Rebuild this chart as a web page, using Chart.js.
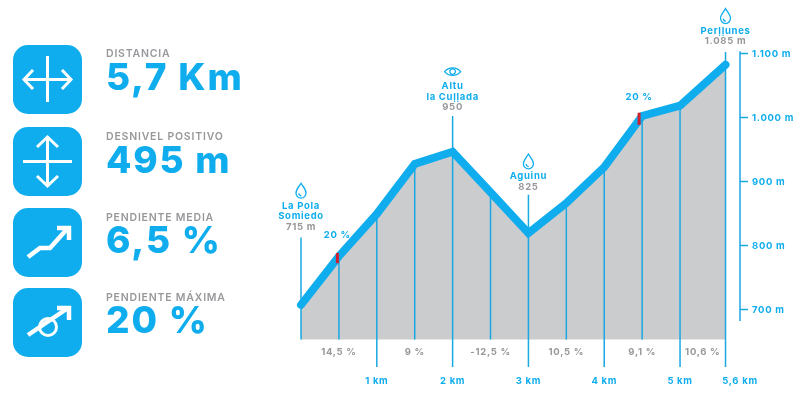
<!DOCTYPE html>
<html>
<head>
<meta charset="utf-8">
<script src="https://cdn.jsdelivr.net/npm/chart.js@4"></script>
<style>
    html, body { margin: 0; padding: 0; background: #fff; }
    #wrap { position: relative; width: 800px; height: 396px; overflow: hidden; font-family: Inter, sans-serif; }
    #profile { position: absolute; left: 0; top: 0; }
    .icon { position: absolute; left: 13px; width: 69px; height: 69px; }
    .stat-name { position: absolute; left: 106px; font-size: 10.5px; font-weight: 600; color: #98989c; letter-spacing: 0.8px; line-height: 12px; white-space: nowrap; }
    .stat-value { position: absolute; left: 106px; font-size: 37px; font-weight: 800; color: #0fadee; line-height: 40px; white-space: nowrap; letter-spacing: 1.8px; }
</style>
</head>
<body>
<div id="wrap">
    <canvas id="profile" width="800" height="396"></canvas>

    <svg class="icon" style="top:45px" viewBox="0 0 69 69"><rect width="69" height="69" rx="15" fill="#0fadee"/><g fill="none" stroke="#fff" stroke-width="3"><path d="M34.5 11V57M11 34.5H58M20 25L11 34.5L20 44M49 25L58 34.5L49 44"/></g></svg>
    <div class="stat-name" style="top:48px">DISTANCIA</div>
    <div class="stat-value" style="top:57px">5,7 Km</div>

    <svg class="icon" style="top:127px" viewBox="0 0 69 69"><rect width="69" height="69" rx="15" fill="#0fadee"/><g fill="none" stroke="#fff" stroke-width="3"><path d="M34.5 11V58M10 34.5H59M24 20L34.5 10L45 20M24 49L34.5 59L45 49"/></g></svg>
    <div class="stat-name" style="top:131px">DESNIVEL POSITIVO</div>
    <div class="stat-value" style="top:140px">495 m</div>

    <svg class="icon" style="top:208px" viewBox="0 0 69 69"><rect width="69" height="69" rx="15" fill="#0fadee"/><g fill="none" stroke="#fff" stroke-width="4.5"><path d="M15 49L27 40H37L55 20M44 20H56V32"/></g></svg>
    <div class="stat-name" style="top:212px">PENDIENTE MEDIA</div>
    <div class="stat-value" style="top:220px">6,5 %</div>

    <svg class="icon" style="top:288px" viewBox="0 0 69 69"><rect width="69" height="69" rx="15" fill="#0fadee"/><g fill="none" stroke="#fff"><path stroke-width="4.5" d="M15 47L55 20M44 20H56V32"/><circle stroke-width="3" cx="35" cy="39" r="8.5"/></g></svg>
    <div class="stat-name" style="top:292px">PENDIENTE MÁXIMA</div>
    <div class="stat-value" style="top:300px">20 %</div>
</div>

<script>
// elevation profile
const profileKm = [0, 0.5, 1, 1.5, 2, 2.5, 3, 3.5, 4, 4.5, 5, 5.6];
const profileElev = [708, 784, 850, 928, 947, 884, 820, 867, 923, 1003, 1019, 1083];

const elevTicks = [700, 800, 900, 1000, 1100];
const kmMarks = [1, 2, 3, 4, 5, 5.6];
// last label is centred under the elevation axis, not under its own line
const kmLabelAt = [1, 2, 3, 4, 5, 5.791];
const kmLabels = ['1 km', '2 km', '3 km', '4 km', '5 km', '5,6 km'];

const slopeKm = [0.5, 1.5, 2.5, 3.5, 4.5, 5.3];
const slopeLabels = ['14,5 %', '9 %', '-12,5 %', '10,5 %', '9,1 %', '10,6 %'];

const placeKm = [0, 2, 3, 5.6];
const placeTop = [813, 1003, 880, 1103];
const placeLabelElev = [830, 1016, 892, 1119];
const placeNames = [['La Pola', 'Somiedo'], ['Altu', 'la Cuḷḷada'], ['Aguinu'], ['Perḷḷunes']];
const placeElev = ['715 m', '950', '825', '1.085 m'];
const placeIcons = ['drop', 'eye', 'drop', 'drop'];

const steepKm = [0.48, 4.46];
const steepFrom = [773, 989];
const steepTo = [789, 1008];
const steepLabels = ['20 %', '20 %'];
const steepLabelElev = [817, 1033];

const floorElev = 654;
const bottomElev = 611;
const blue = '#0fadee';
const lineBlue = '#1aa8e2';
const grey = '#98989c';

function elevAt(km) {
    return profileElev[profileKm.indexOf(km)];
}

// vertical lines: half km marks stop at the floor, full km marks go down to the labels
const dropLines = profileKm.map(km => {
    const placeIndex = placeKm.indexOf(km);
    const top = placeIndex >= 0 ? placeTop[placeIndex] : elevAt(km);
    const bottom = kmMarks.includes(km) ? bottomElev : floorElev;
    return {
        data: [{ x: km, y: top }, { x: km, y: bottom }],
        borderColor: lineBlue,
        borderWidth: 1.5,
        pointRadius: 0,
        order: 2
    };
});

const steepLines = steepKm.map((km, i) => ({
    data: [{ x: km, y: steepFrom[i] }, { x: km, y: steepTo[i] }],
    borderColor: '#d3202f',
    borderWidth: 3,
    pointRadius: 0,
    order: 0
}));

const axisLine = {
    data: [{ x: 5.791, y: 1104 }, { x: 5.791, y: 683 }],
    borderColor: lineBlue,
    borderWidth: 1.5,
    pointRadius: 0,
    clip: false,
    order: 2
};

const dropPath = new Path2D('M0 -7.5C2 -4 5 -1.5 5 2.2A5 5.2 0 0 1 -5 2.2C-5 -1.5 -2 -4 0 -7.5Z');
const dropInner = new Path2D('M-2.2 2.5A2.4 2.6 0 0 0 0.3 5');
const eyePath = new Path2D('M-8 0C-4 -5 4 -5 8 0C4 5 -4 5 -8 0Z');

const labelsPlugin = {
    id: 'profileLabels',
    beforeDraw(chart) {
        chart.ctx.letterSpacing = '0.7px';
    },
    afterDatasetsDraw(chart) {
        const { ctx, scales } = chart;
        const x = scales.x;
        const y = scales.y;
        ctx.save();
        ctx.textAlign = 'center';
        ctx.textBaseline = 'middle';
        ctx.font = '700 9.5px Inter';

        // slope under each stretch
        ctx.fillStyle = grey;
        slopeKm.forEach((km, i) => ctx.fillText(slopeLabels[i], x.getPixelForValue(km), 352));

        // slope of the steepest bits
        ctx.fillStyle = blue;
        steepKm.forEach((km, i) => {
            ctx.fillText(steepLabels[i], x.getPixelForValue(km), y.getPixelForValue(steepLabelElev[i]));
        });

        // place names, elevation under them and the icon on top
        placeKm.forEach((km, i) => {
            const px = x.getPixelForValue(km);
            const labelY = y.getPixelForValue(placeLabelElev[i]);
            const names = placeNames[i];
            ctx.fillStyle = grey;
            ctx.fillText(placeElev[i], px, labelY);
            ctx.fillStyle = blue;
            names.forEach((name, n) => {
                ctx.fillText(name, px, labelY - 10.5 - (names.length - 1 - n) * 10.5);
            });
            const iconY = labelY - 10.5 - (names.length - 1) * 10.5 - 15;
            ctx.save();
            ctx.translate(px, iconY);
            ctx.strokeStyle = blue;
            ctx.lineWidth = 1.3;
            if (placeIcons[i] === 'eye') {
                ctx.stroke(eyePath);
                ctx.beginPath();
                ctx.arc(0, 0, 2.8, 0, Math.PI * 2);
                ctx.stroke();
            } else {
                ctx.stroke(dropPath);
                ctx.stroke(dropInner);
            }
            ctx.restore();
        });
        ctx.restore();
    }
};

new Chart(document.getElementById('profile').getContext('2d'), {
    type: 'line',
    data: {
        datasets: [
            {
                data: profileKm.map((km, i) => ({ x: km, y: profileElev[i] })),
                borderColor: blue,
                borderWidth: 8,
                borderCapStyle: 'round',
                borderJoinStyle: 'miter',
                backgroundColor: '#cbccce',
                fill: { value: floorElev },
                pointRadius: 0,
                tension: 0,
                order: 1
            },
            ...dropLines,
            ...steepLines,
            axisLine
        ]
    },
    options: {
        responsive: false,
        animation: false,
        events: [],
        layout: { padding: { left: 260 } },
        plugins: {
            legend: { display: false },
            tooltip: { enabled: false },
            filler: { drawTime: 'beforeDatasetsDraw' }
        },
        scales: {
            x: {
                type: 'linear',
                min: -0.541,
                max: 5.791,
                border: { display: false },
                grid: { display: false, drawTicks: false },
                afterBuildTicks: scale => { scale.ticks = kmLabelAt.map(v => ({ value: v })); },
                afterFit: scale => { scale.height = 29; },
                ticks: {
                    autoSkip: false,
                    maxRotation: 0,
                    padding: 8,
                    color: blue,
                    font: { family: 'Inter', size: 9.5, weight: '700' },
                    callback: v => kmLabels[kmLabelAt.indexOf(v)]
                }
            },
            y: {
                position: 'right',
                min: bottomElev,
                max: 1184,
                border: { display: false },
                grid: { drawOnChartArea: false, drawTicks: true, tickLength: 8, tickWidth: 1.5, color: lineBlue },
                afterBuildTicks: scale => { scale.ticks = elevTicks.map(v => ({ value: v })); },
                afterFit: scale => { scale.width = 60; scale.paddingTop = 0; scale.paddingBottom = 0; },
                ticks: {
                    padding: 4,
                    color: blue,
                    font: { family: 'Inter', size: 9.5, weight: '700' },
                    callback: v => v.toLocaleString('de-DE') + ' m'
                }
            }
        }
    },
    plugins: [labelsPlugin]
});
</script>
</body>
</html>
